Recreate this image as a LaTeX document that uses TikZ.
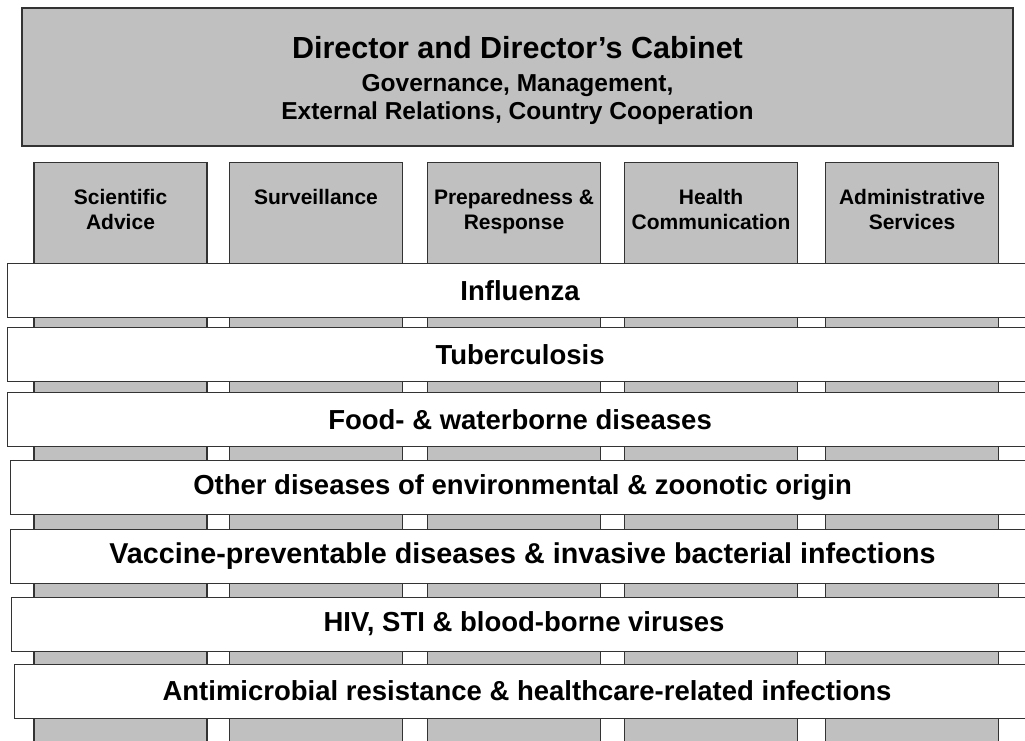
\documentclass[tikz,border=0pt]{standalone}
\usepackage{fontspec}
\setmainfont{Liberation Sans}
\usetikzlibrary{positioning}

\definecolor{unitgray}{HTML}{C0C0C0}
\definecolor{edgegray}{HTML}{333333}

\begin{document}
\begin{tikzpicture}[
    x=1pt, y=-1pt,
    node distance=27pt,
    cabinet/.style={rectangle, draw=edgegray, fill=unitgray, line width=1.1pt, minimum width=991pt, minimum height=138pt, align=center, inner sep=0pt, font=\bfseries\fontsize{24.5}{28.5}\selectfont},
    unit/.style={rectangle, draw=edgegray, fill=unitgray, line width=1.1pt, minimum width=173pt, minimum height=620pt, anchor=north},
    unittext/.style={align=center, inner sep=0pt, font=\bfseries\fontsize{21}{25}\selectfont},
    band/.style={rectangle, draw=edgegray, fill=white, line width=1.1pt, minimum width=1025pt, minimum height=54pt, anchor=north west, inner sep=0pt, font=\bfseries\fontsize{27.5}{30}\selectfont}
  ]
    \useasboundingbox (0,0) rectangle (1025,740);
    \clip (0,0) rectangle (1025,740);

    % top management box, text a little below centre
    \draw[draw=edgegray, fill=unitgray, line width=1.1pt] (22,8) rectangle (1013,146);
    \node[cabinet, draw=none, fill=none] (cabinet) at (517.5,80.5) {{\fontsize{30.5}{30}\selectfont Director and Director’s Cabinet}\\[4pt]Governance, Management,\\External Relations, Country Cooperation};

    % horizontal units (columns)
    \node[unit] (advice) at (120.5,162) {};
    \node[unit] (surv) at (316,162) {};
    \node[unit] (prep) at (514,162) {};
    \node[unit] (comm) at (711,162) {};
    \node[unit] (admin) at (912,162) {};

    \node[unittext, below=of advice.north] (advicetxt) {Scientific\\Advice};
    \node[unittext, below=of surv.north] (survtxt) {Surveillance};
    \node[unittext, below=of prep.north] (preptxt) {Preparedness \&\\Response};
    \node[unittext, below=of comm.north] (commtxt) {Health\\Communication};
    \node[unittext, below=of admin.north] (admintxt) {Administrative\\Services};

    % disease programmes (bands)
    \node[band] (flu) at (7,263) {Influenza};
    \node[band] (tb) at (7,327) {Tuberculosis};
    \node[band] (fwd) at (7,392) {Food- \& waterborne diseases};
    \node[band] (ezo) at (9.5,459.5) {Other diseases of environmental \& zoonotic origin};
    \node[band, font=\bfseries\fontsize{28.7}{30}\selectfont] (vpd) at (9.5,529) {Vaccine-preventable diseases \& invasive bacterial infections};
    \node[band] (hiv) at (11,596.5) {HIV, STI \& blood-borne viruses};
    \node[band] (amr) at (14,663.5) {Antimicrobial resistance \& healthcare-related infections};
  \end{tikzpicture}
\end{document}
